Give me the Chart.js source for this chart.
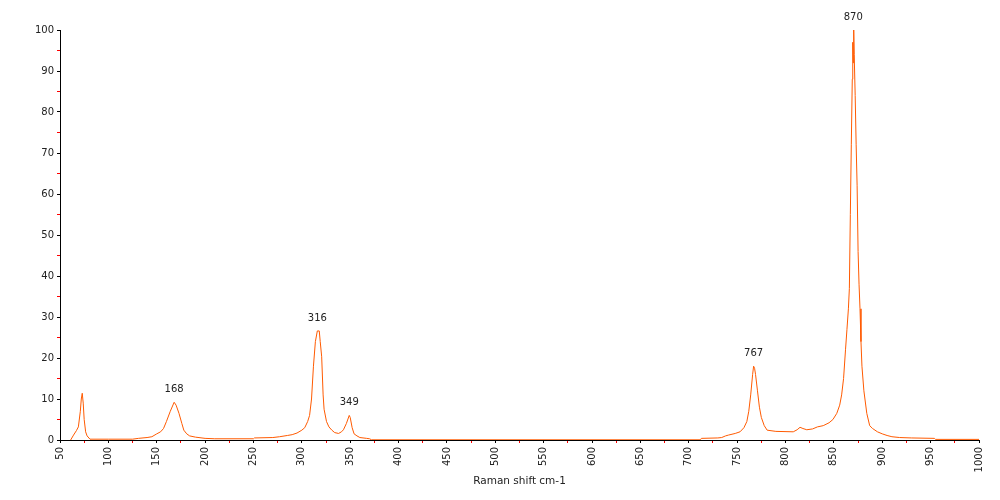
<!DOCTYPE html>
<html>
<head>
<meta charset="utf-8">
<title>Raman spectrum</title>
<script src="https://cdn.jsdelivr.net/npm/chart.js@4/dist/chart.umd.min.js"></script>
<style>
  html, body { margin: 0; padding: 0; background: #fff; }
  canvas { display: block; }
</style>
</head>
<body>
<canvas id="raman-chart" width="1000" height="500"></canvas>
<script>
// Raman shift (cm-1) and relative intensity
const shiftValues = [
    61, 64, 67, 69, 71, 72, 73, 74, 75, 76.5, 78, 81, 100, 125, 131, 140, 145, 150, 154, 157,
    160, 164, 168, 170, 173, 176, 178, 181, 184, 190, 200, 210, 250, 251, 270, 277, 285, 290, 295, 300,
    303, 306, 308, 310, 312, 314, 316, 318, 319, 320.5, 322, 323, 325.5, 328, 331, 334, 338, 341, 343, 346,
    349, 350, 352, 354, 357, 360, 367, 370, 372, 712, 713, 730, 734, 738, 741, 748, 753, 757, 760, 762,
    764, 766, 767, 768, 769, 771, 773, 775, 778, 781, 790, 808, 812, 815, 818, 822, 828, 833, 839, 845,
    849, 853, 856, 858, 860, 862, 863.5, 865, 866, 867, 868, 869, 869.5, 870, 870.5, 871, 872, 873, 874, 875,
    876, 877, 878, 879, 881, 884, 887, 890, 895, 900, 905, 910, 918, 930, 954, 955, 1000
];
const intensityValues = [
    0, 1.2, 2.3, 3.2, 7, 10, 11.4, 9, 5, 2, 1, 0.2, 0.2, 0.2, 0.4, 0.6, 0.8, 1.5, 2, 2.8,
    4.5, 7, 9.2, 8.5, 6.5, 4, 2.4, 1.5, 1, 0.7, 0.4, 0.3, 0.3, 0.5, 0.6, 0.8, 1.1, 1.3, 1.7, 2.4,
    3, 4.5, 6, 10, 18, 24, 26.6, 26.6, 24, 20.3, 11, 7.5, 4.5, 3.2, 2.4, 1.8, 1.6, 2, 2.5, 4,
    6, 5.5, 3, 1.5, 1, 0.6, 0.4, 0.3, 0.05, 0.05, 0.4, 0.5, 0.6, 1, 1.2, 1.6, 2, 3, 4.5, 7,
    11, 16, 18, 17.5, 16, 12, 8, 5.5, 3.5, 2.4, 2.1, 2, 2.5, 3.1, 2.8, 2.5, 2.7, 3.2, 3.5, 4.2,
    5, 6.5, 8.5, 11, 15, 22, 27, 32, 37, 55, 72, 88, 97, 92, 100, 94, 84, 72, 62, 46,
    38, 32, 24, 18, 12, 6.5, 3.5, 2.8, 2, 1.5, 1.1, 0.8, 0.6, 0.5, 0.4, 0.15, 0.15
];

// peaks that get a label above them
const peakShifts = [168, 316, 349, 767, 870];
const peakLabels = ['168', '316', '349', '767', '870'];

const fontFamily = '"DejaVu Sans", Verdana, sans-serif';
const lineColor = '#ff5a00';

function peakHeight(shift) {
    let best = 0;
    for (let i = 0; i < shiftValues.length; i++) {
        if (Math.abs(shiftValues[i] - shift) <= 3 && intensityValues[i] > best) {
            best = intensityValues[i];
        }
    }
    return best;
}

// draws the peak position text above each labelled peak
const peakLabelPlugin = {
    id: 'peakLabels',
    afterDatasetsDraw(chart) {
        const ctx = chart.ctx;
        const xScale = chart.scales.x;
        const yScale = chart.scales.y;
        ctx.save();
        ctx.font = '10px ' + fontFamily;
        ctx.fillStyle = '#222';
        ctx.textAlign = 'center';
        ctx.textBaseline = 'middle';
        for (let i = 0; i < peakShifts.length; i++) {
            const px = xScale.getPixelForValue(peakShifts[i]);
            const py = yScale.getPixelForValue(peakHeight(peakShifts[i])) - 13;
            ctx.fillText(peakLabels[i], px, py);
        }
        ctx.restore();
    }
};

const tickColor = (c) => (c.tick && c.tick.value % 50 === 0 ? '#000' : '#ff0000');
const yTickColor = (c) => (c.tick && c.tick.value % 10 === 0 ? '#000' : '#ff0000');

const points = shiftValues.map((x, i) => ({ x: x, y: intensityValues[i] }));

new Chart(document.getElementById('raman-chart'), {
    type: 'line',
    data: {
        datasets: [{
            label: 'Raman',
            data: points,
            borderColor: lineColor,
            borderWidth: 1,
            pointRadius: 0,
            tension: 0,
            fill: false,
        }],
    },
    options: {
        responsive: false,
        animation: false,
        devicePixelRatio: 1,
        layout: { padding: { top: 30, right: 21, left: 0, bottom: 0 } },
        plugins: {
            legend: { display: false },
            tooltip: { enabled: false },
        },
        scales: {
            x: {
                type: 'linear',
                min: 50,
                max: 1000,
                afterFit: (scale) => { scale.height = 60; },
                border: { display: true, color: '#000', width: 1 },
                grid: {
                    display: true,
                    drawOnChartArea: false,
                    drawTicks: true,
                    tickLength: 3,
                    tickColor: tickColor,
                },
                ticks: {
                    stepSize: 25,
                    autoSkip: false,
                    minRotation: 90,
                    maxRotation: 90,
                    padding: 4,
                    color: '#222',
                    font: { family: fontFamily, size: 10 },
                    callback: (value) => (value % 50 === 0 ? String(value) : ''),
                },
                title: {
                    display: true,
                    text: 'Raman shift cm-1',
                    color: '#222',
                    font: { family: fontFamily, size: 10.5 },
                    padding: { top: 0, bottom: 12 },
                },
            },
            y: {
                min: 0,
                max: 100,
                afterFit: (scale) => { scale.width = 60; },
                border: { display: true, color: '#000', width: 1 },
                grid: {
                    display: true,
                    drawOnChartArea: false,
                    drawTicks: true,
                    tickLength: 3,
                    tickColor: yTickColor,
                },
                ticks: {
                    stepSize: 5,
                    padding: 3,
                    color: '#222',
                    font: { family: fontFamily, size: 10 },
                    callback: (value) => (value % 10 === 0 ? String(value) : ''),
                },
            },
        },
    },
    plugins: [peakLabelPlugin],
});
</script>
</body>
</html>
